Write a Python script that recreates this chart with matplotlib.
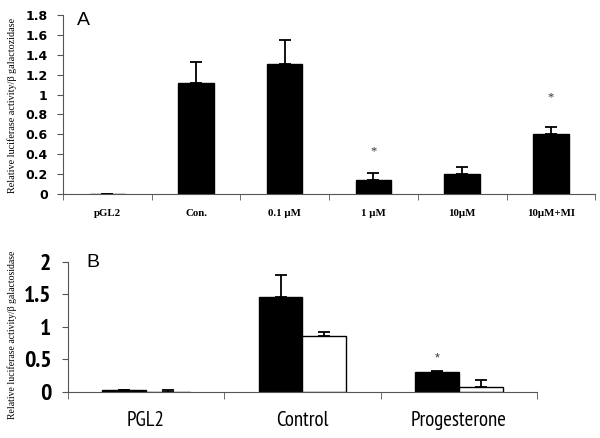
import matplotlib
matplotlib.use('Agg')
import matplotlib.pyplot as plt
import numpy as np

# panel A data
a_labels = ['pGL2', 'Con.', '0.1 \u00b5M', '1 \u00b5M', '10\u00b5M', '10\u00b5M+MI']
a_vals = [0.005, 1.12, 1.31, 0.14, 0.20, 0.60]
a_err = [0.0, 0.21, 0.24, 0.07, 0.07, 0.07]
a_star = [None, None, None, 0.43, None, 0.97]

# panel B data
b_labels = ['PGL2', 'Control', 'Progesterone']
b_black = [0.03, 1.46, 0.31]
b_black_err = [0.0, 0.34, 0.02]
b_white = [0.005, 0.86, 0.08]
b_white_err = [0.025, 0.07, 0.10]
b_star = [None, None, 0.52]

narrow = ['PT Sans Narrow', 'Roboto Condensed', 'Liberation Sans', 'DejaVu Sans']
axcol = '#555555'

fig = plt.figure(figsize=(6, 4.38), dpi=100)

# ---------- panel A ----------
ax = fig.add_axes([0.105, 0.557, 0.887, 0.409])
x = np.arange(len(a_labels))
ax.bar(x, a_vals, width=0.4, color='black', edgecolor='black')
ax.errorbar(x, a_vals, yerr=[np.zeros(len(a_err)), a_err], fmt='none',
            ecolor='black', elinewidth=1.3, capsize=4, capthick=1.3)
for i, s in enumerate(a_star):
    if s is not None:
        ax.text(x[i], s, '*', ha='center', va='center', fontsize=9,
                family='Liberation Serif', color='#333333')
ax.set_xlim(-0.5, len(a_labels) - 0.5)
ax.set_ylim(0, 1.8)
ax.set_yticks(np.arange(0, 1.81, 0.2))
ax.set_yticklabels(['0', '0.2', '0.4', '0.6', '0.8', '1', '1.2', '1.4', '1.6', '1.8'],
                   family='DejaVu Sans', fontweight='bold', fontsize=9)
ax.set_xticks(x)
ax.set_xticklabels(a_labels, family='Liberation Serif', fontweight='bold', fontsize=7.8)
ax.set_xticks(np.arange(-0.5, len(a_labels)), minor=True)
ax.tick_params(axis='x', which='major', length=0, pad=11)
ax.tick_params(axis='x', which='minor', length=4, color=axcol)
ax.tick_params(axis='y', length=4, color=axcol, pad=7)
for sp in ['top', 'right']:
    ax.spines[sp].set_visible(False)
for sp in ['left', 'bottom']:
    ax.spines[sp].set_color(axcol)
ax.text(0.026, 1.015, 'A', transform=ax.transAxes, fontsize=14,
        family='Liberation Sans', va='top', ha='left')
fig.text(0.02, 0.76, 'Relative luciferase activity/\u03b2 galactozidase',
         rotation=90, ha='center', va='center', family='Liberation Serif', fontsize=7.3)

# ---------- panel B ----------
bx = fig.add_axes([0.113, 0.105, 0.782, 0.297])
xb = np.arange(len(b_labels))
w = 0.28
bx.bar(xb - w / 2, b_black, width=w, color='black', edgecolor='black', linewidth=1)
bx.bar(xb + w / 2, b_white, width=w, color='white', edgecolor='black', linewidth=1)
bx.errorbar(xb - w / 2, b_black, yerr=[np.zeros(3), b_black_err], fmt='none',
            ecolor='black', elinewidth=1.3, capsize=4, capthick=1.3)
bx.errorbar(xb + w / 2, b_white, yerr=[np.zeros(3), b_white_err], fmt='none',
            ecolor='black', elinewidth=1.3, capsize=4, capthick=1.3)
for i, s in enumerate(b_star):
    if s is not None:
        bx.text(xb[i] - w / 2, s, '*', ha='center', va='center', fontsize=9,
                family='Liberation Sans', color='#333333')
bx.set_xlim(-0.5, len(b_labels) - 0.5)
bx.set_ylim(0, 2)
bx.set_yticks([0, 0.5, 1, 1.5, 2])
bx.set_yticklabels(['0', '0.5', '1', '1.5', '2'], family=narrow, fontweight='bold', fontsize=17)
bx.set_xticks(xb)
bx.set_xticklabels(b_labels, family=narrow, fontsize=15)
bx.set_xticks(np.arange(-0.5, len(b_labels)), minor=True)
bx.tick_params(axis='x', which='major', length=0, pad=14)
bx.tick_params(axis='x', which='minor', length=5, color=axcol)
bx.tick_params(axis='y', length=4, color=axcol, pad=8)
for sp in ['top', 'right']:
    bx.spines[sp].set_visible(False)
for sp in ['left', 'bottom']:
    bx.spines[sp].set_color(axcol)
bx.text(0.04, 1.06, 'B', transform=bx.transAxes, fontsize=14,
        family='Liberation Sans', va='top', ha='left')
fig.text(0.02, 0.235, 'Relative luciferase activity/\u03b2 galactosidase',
         rotation=90, ha='center', va='center', family='Liberation Serif', fontsize=7)

fig.savefig('out.png', dpi=100)
